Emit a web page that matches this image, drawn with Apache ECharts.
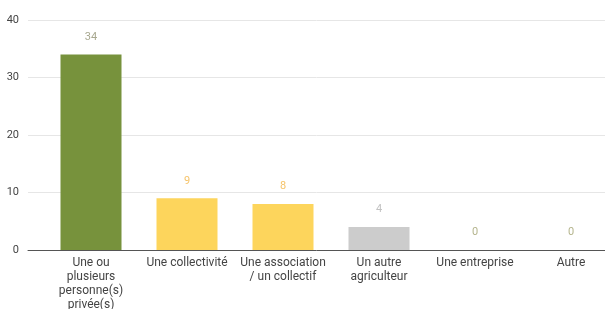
<!DOCTYPE html>
<html><head><meta charset="utf-8">
<script src="https://cdn.jsdelivr.net/npm/echarts@6/dist/echarts.min.js"></script>
<style>html,body{margin:0;padding:0;background:#fff}#c{width:605px;height:309px}</style>
</head><body><div id="c"></div>
<script>
var categories = ["Une ou\nplusieurs\npersonne(s)\nprivée(s)", "Une collectivité", "Une association\n/ un collectif", "Un autre\nagriculteur", "Une entreprise", "Autre"];
var values = [34, 9, 8, 4, 0, 0];
var barColors = ["#77923c", "#fdd55c", "#fdd55c", "#cccccc", "#77923c", "#77923c"];
var labelColors = ["#a8a890", "#f6c46a", "#f6c46a", "#c2c2c2", "#b4b48c", "#b4b48c"];
var yTicks = [0, 10, 20, 30, 40];

var chart = echarts.init(document.getElementById('c'), null, {renderer: 'canvas'});
var font = 'Roboto, Arial, sans-serif';
chart.setOption({
  animation: false,
  grid: [
    {left: 28, right: 0, top: 20, bottom: 59, outerBoundsMode: 'none', containLabel: false},
    {left: 43, width: 576, top: 20, bottom: 59, outerBoundsMode: 'none', containLabel: false}
  ],
  xAxis: [
    {gridIndex: 0, type: 'category', data: categories, axisLine: {lineStyle: {color: '#555', width: 1}}, axisTick: {show: false}, axisLabel: {show: false}},
    {gridIndex: 1, type: 'category', data: categories, axisLine: {show: false}, axisTick: {show: false},
     axisLabel: {interval: 0, color: '#444', fontFamily: font, fontSize: 12, lineHeight: 14, margin: 6}}
  ],
  yAxis: [
    {gridIndex: 0, type: 'value', min: yTicks[0], max: yTicks[yTicks.length - 1], interval: 10,
     axisLine: {show: false}, axisTick: {show: false},
     axisLabel: {color: '#444', fontFamily: font, fontSize: 11, margin: 9},
     splitLine: {lineStyle: {color: '#e6e6e6', width: 1}}},
    {gridIndex: 1, type: 'value', min: yTicks[0], max: yTicks[yTicks.length - 1], interval: 10, show: false, splitLine: {show: false}}
  ],
  series: [{
    type: 'bar', xAxisIndex: 1, yAxisIndex: 1, barWidth: 61,
    data: values.map(function (v, i) {
      return {value: v, itemStyle: {color: barColors[i]}, label: {color: labelColors[i]}};
    }),
    label: {show: true, position: 'top', distance: 12, fontFamily: font, fontSize: 11}
  }]
});
</script></body></html>
